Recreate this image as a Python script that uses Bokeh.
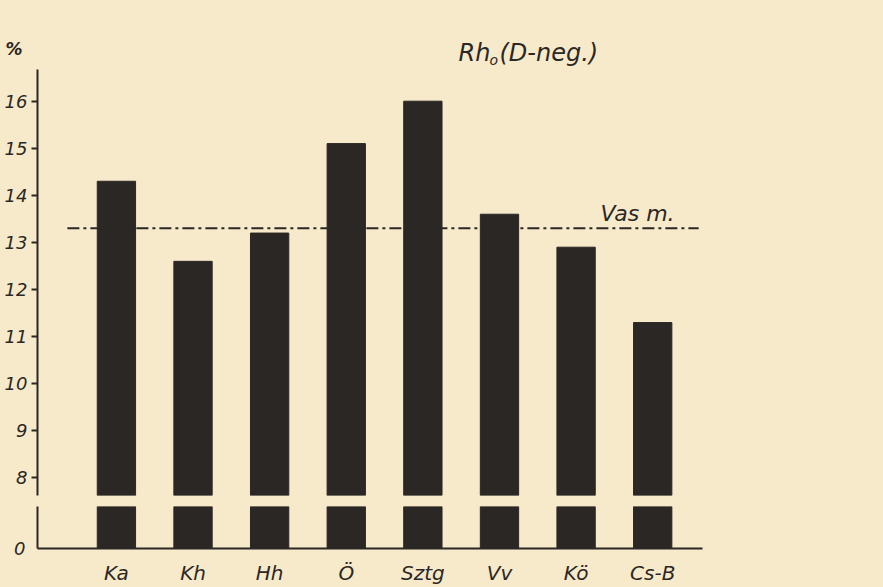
from bokeh.plotting import figure
from bokeh.layouts import column
from bokeh.models import Range1d, FixedTicker, Label, ColumnDataSource
from bokeh.embed import file_html
from bokeh.resources import INLINE

# ---- data ----
CATS = ["Ka", "Kh", "Hh", "Ö", "Sztg", "Vv", "Kö", "Cs-B"]
VALUES = [14.3, 12.6, 13.2, 15.1, 16.0, 13.6, 12.9, 11.3]
MEAN_VALUE = 13.3
MEAN_LABEL = "Vas m."
UPPER_TICKS = [8, 9, 10, 11, 12, 13, 14, 15, 16]
LOWER_TICKS = [0]
TITLE_MAIN = "Rh"
TITLE_SUB = "o"
TITLE_REST = "(D-neg.)"
UNIT = "%"

# ---- style ----
PAPER = "#f7eacb"
INK = "#2b2724"
BAR = "#2b2724"
FONT = "DejaVu Sans"

idx = list(range(len(CATS)))
src = ColumnDataSource(dict(x=idx, top=VALUES, bottom=[0] * len(VALUES)))
xr = Range1d(-1.03, 7.65)

base = dict(output_backend="svg", toolbar_location=None, title_location=None,
            background_fill_color=PAPER, border_fill_color=PAPER,
            outline_line_color=None)

# header strip holding the unit sign and the title
head = figure(frame_width=883, frame_height=69, min_border=0,
              x_range=Range1d(0, 883), y_range=Range1d(69, 0),
              x_axis_location=None, y_axis_location=None, **base)
head.frame_align = False
head.grid.visible = False
for x, y, t, size, style in [(5, 48, UNIT, "17px", "bold italic"),
                             (458, 52, TITLE_MAIN, "24px", "italic"),
                             (489, 59, TITLE_SUB, "14px", "italic"),
                             (499, 52, TITLE_REST, "24px", "italic")]:
    head.add_layout(Label(x=x, y=y, text=t, text_font=FONT,
                          text_font_style=style, text_font_size=size,
                          text_color=INK, text_baseline="alphabetic"))

common = dict(frame_width=665, min_border_left=37, min_border_right=181,
              min_border_top=0, x_range=xr, **base)

top = figure(frame_height=426, min_border_bottom=11,
             y_range=Range1d(7.628, 16.673), x_axis_location=None, **common)
bot = figure(frame_height=42, min_border_bottom=39,
             y_range=Range1d(0, 0.892), **common)

for p in (top, bot):
    p.grid.visible = False
    p.vbar(x="x", top="top", bottom="bottom", width=0.5, source=src,
           fill_color=BAR, line_color=BAR)
    for ax in p.axis:
        ax.axis_line_color = INK
        ax.axis_line_width = 2
        ax.major_tick_line_color = INK
        ax.major_tick_line_width = 2
        ax.minor_tick_line_color = None
        ax.major_label_text_font = FONT
        ax.major_label_text_font_style = "italic"
        ax.major_label_text_color = INK

# upper y axis
top.yaxis.ticker = FixedTicker(ticks=UPPER_TICKS)
top.yaxis.major_tick_out = 6
top.yaxis.major_tick_in = 0
top.yaxis.major_label_standoff = 4
top.yaxis.major_label_text_font_size = "18px"

# lower y axis
bot.yaxis.ticker = FixedTicker(ticks=LOWER_TICKS)
bot.yaxis.major_tick_out = 0
bot.yaxis.major_tick_in = 0
bot.yaxis.major_label_standoff = 12
bot.yaxis.major_label_text_font_size = "18px"

# x axis
bot.xaxis.ticker = FixedTicker(ticks=idx)
bot.xaxis.major_label_overrides = {i: c for i, c in zip(idx, CATS)}
bot.xaxis.major_tick_out = 0
bot.xaxis.major_tick_in = 0
bot.xaxis.major_label_standoff = 12
bot.xaxis.major_label_text_font_size = "20px"

# mean line
top.segment(x0=[-0.64], x1=[7.6], y0=[MEAN_VALUE], y1=[MEAN_VALUE],
            line_color=INK, line_width=2, line_dash="12 4 3 4")
top.add_layout(Label(x=6.32, y=MEAN_VALUE + 0.31, text=MEAN_LABEL,
                     text_font=FONT, text_font_style="italic",
                     text_font_size="22px", text_color=INK,
                     text_baseline="alphabetic"))

layout = column(head, top, bot, spacing=0, styles={"background-color": PAPER})
open("out.html", "w").write(file_html(layout, INLINE))
